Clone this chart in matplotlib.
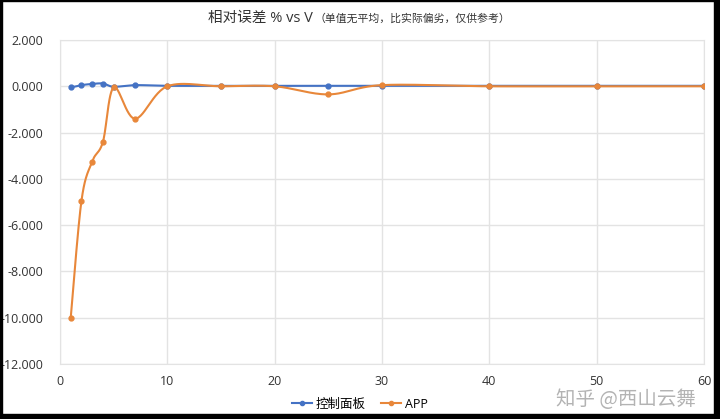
import numpy as np
import matplotlib.pyplot as plt
from matplotlib.patches import Rectangle

plt.rcParams['font.family'] = ['Open Sans', 'Noto Sans CJK SC', 'DejaVu Sans']

# data
panel_x = [1, 2, 3, 4, 5, 7, 10, 15, 20, 25, 30, 40, 50, 60]
panel_y = [-0.05, 0.05, 0.10, 0.12, -0.02, 0.05, 0.02, 0.02, 0.02, 0.02, 0.02, 0.02, 0.02, 0.02]
app_x = [1, 2, 3, 4, 5, 7, 10, 15, 20, 25, 30, 40, 50, 60]
app_y = [-10.0, -4.95, -3.25, -2.40, -0.05, -1.40, 0.0, 0.0, 0.0, -0.35, 0.05, 0.0, 0.0, 0.0]

blue = '#4472C4'
orange = '#E8873A'


def smooth(xs, ys, n=30):
    # Excel-like smoothed line: Catmull-Rom segments as cubic Bezier
    p = np.column_stack([xs, ys]).astype(float)
    pts = [p[0]]
    for i in range(len(p) - 1):
        p0 = p[i - 1] if i > 0 else p[i]
        p3 = p[i + 2] if i + 2 < len(p) else p[i + 1]
        c1 = p[i] + (p[i + 1] - p0) / 6
        c2 = p[i + 1] - (p3 - p[i]) / 6
        t = np.linspace(0, 1, n)[1:, None]
        seg = ((1 - t) ** 3) * p[i] + 3 * ((1 - t) ** 2) * t * c1 + 3 * (1 - t) * t ** 2 * c2 + t ** 3 * p[i + 1]
        pts.extend(seg)
    pts = np.array(pts)
    return pts[:, 0], pts[:, 1]


fig = plt.figure(figsize=(7.2, 4.19), dpi=100)
ax = fig.add_axes([60 / 720, 1 - 364 / 419, 644 / 720, 324 / 419])

sx, sy = smooth(panel_x, panel_y)
ax.plot(sx, sy, color=blue, lw=1.5, zorder=3)
ax.plot(panel_x, panel_y, 'o', color=blue, ms=3.5, zorder=3)
sx, sy = smooth(app_x, app_y)
ax.plot(sx, sy, color=orange, lw=1.5, zorder=4)
ax.plot(app_x, app_y, 'o', color=orange, ms=3.5, zorder=4)

ax.set_xlim(0, 60)
ax.set_ylim(-12, 2)
ax.set_xticks(range(0, 61, 10))
ax.set_yticks(range(-12, 3, 2))
ax.set_yticklabels([f'{v:.3f}' for v in range(-12, 3, 2)])
ax.grid(True, color='#e3e3e3', lw=1)
ax.set_axisbelow(True)
for s in ax.spines.values():
    s.set_color('#e3e3e3')
ax.tick_params(length=0, labelsize=9, colors='#333333', pad=12)
ax.tick_params(axis='x', pad=8)

fig.text(0.434, 0.957, '相对误差 % vs V', fontsize=10.5, ha='right', va='center', color='#333333')
fig.text(0.437, 0.955, '（单值无平均，比实际偏劣，仅供参考）', fontsize=7.8, ha='left', va='center',
         color='#333333', family=['Noto Sans CJK SC', 'DejaVu Sans'])

h1, = ax.plot([], [], '-o', color=blue, ms=3, lw=1.5)
h2, = ax.plot([], [], '-o', color=orange, ms=3, lw=1.5)
fig.legend([h1, h2], ['控制面板', 'APP'], loc='center', bbox_to_anchor=(0.5, 0.035), ncol=2,
           frameon=False, fontsize=9, handlelength=1.6, handletextpad=0.3, columnspacing=1.2)

fig.text(0.87, 0.047, '知乎 @西山云舞', fontsize=14, color='#9a9a9a', alpha=0.75,
         ha='center', va='center', family=['Noto Sans CJK SC', 'DejaVu Sans'])

# black frame round the screenshot, thicker at right and bottom
fig.patches.append(Rectangle((0, 0), 2 / 720, 1, transform=fig.transFigure, color='black', zorder=10))
fig.patches.append(Rectangle((0, 1 - 1.5 / 419), 1, 1.5 / 419, transform=fig.transFigure, color='black', zorder=10))
fig.patches.append(Rectangle((1 - 6 / 720, 0), 6 / 720, 1, transform=fig.transFigure, color='black', zorder=10))
fig.patches.append(Rectangle((0, 0), 1, 5 / 419, transform=fig.transFigure, color='black', zorder=10))

fig.savefig('out.png', dpi=100)
